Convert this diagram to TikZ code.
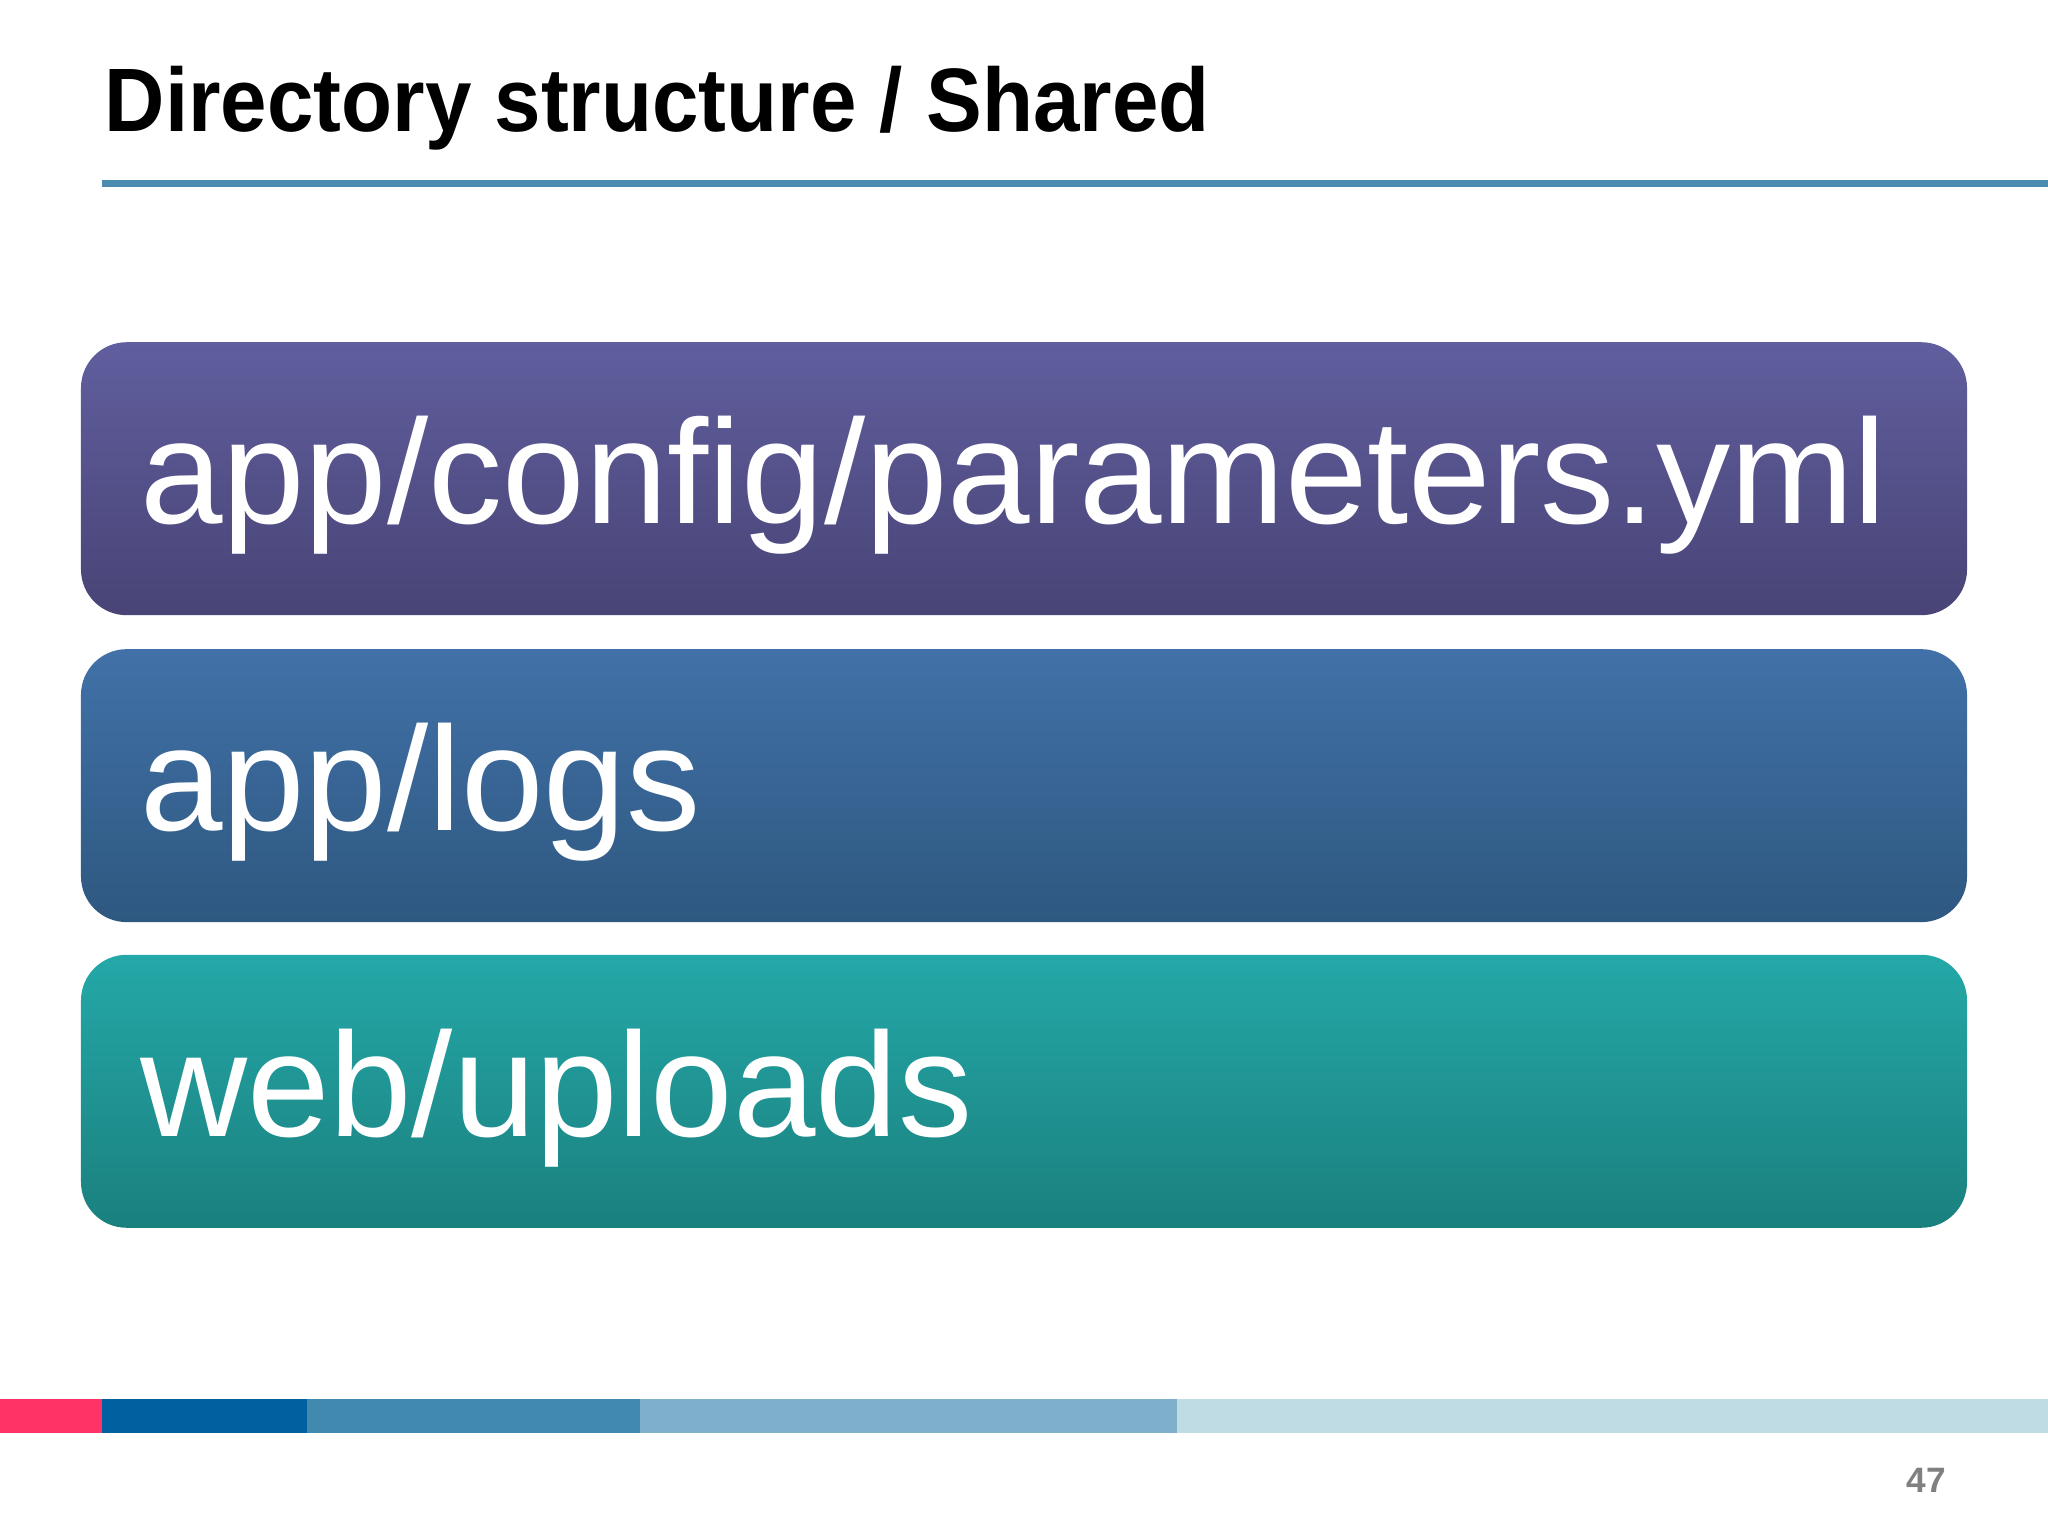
\documentclass[tikz,border=0pt]{standalone}
\usepackage{fontspec}
\setmainfont{Liberation Sans}
\begin{document}
\begin{tikzpicture}[x=1pt,y=-1pt,
  bar/.style={draw=none,rounded corners=35pt},
  lbl/.style={anchor=base west,text=white,inner sep=0pt,font=\fontsize{113.5}{120}\selectfont}]
\useasboundingbox (0,0) rectangle (1568,1176);
\fill[white] (0,0) rectangle (1568,1176);
\node[anchor=base west,inner sep=0pt,xscale=0.927,font=\fontsize{69}{72}\selectfont\bfseries] (title) at (80,101) {Directory structure / Shared};
\fill[color={rgb,255:red,74;green,139;blue,175}] (78,137.5) rectangle (1568,143.5);
% boxes
\shade[bar,top color={rgb,255:red,96;green,94;blue,158},bottom color={rgb,255:red,72;green,68;blue,118}] (62,262) rectangle (1506,471);
\shade[bar,top color={rgb,255:red,65;green,113;blue,168},bottom color={rgb,255:red,46;green,88;blue,128}] (62,497) rectangle (1506,706);
\shade[bar,top color={rgb,255:red,36;green,168;blue,168},bottom color={rgb,255:red,26;green,128;blue,126}] (62,731) rectangle (1506,940);
\node[lbl] (b1) at (107,401) {app/config/parameters.yml};
\node[lbl] (b2) at (107,636) {app/logs};
\node[lbl] (b3) at (107,870) {web/uploads};
% bottom bar
\fill[color={rgb,255:red,255;green,51;blue,102}] (0,1071) rectangle (78,1097);
\fill[color={rgb,255:red,0;green,96;blue,160}] (78,1071) rectangle (235,1097);
\fill[color={rgb,255:red,66;green,137;blue,176}] (235,1071) rectangle (490,1097);
\fill[color={rgb,255:red,126;green,176;blue,204}] (490,1071) rectangle (901,1097);
\fill[color={rgb,255:red,191;green,220;blue,229}] (901,1071) rectangle (1568,1097);
\node[anchor=base,inner sep=0pt,text=gray,font=\fontsize{27}{28}\selectfont\bfseries] (pg) at (1475,1143) {47};
\end{tikzpicture}
\end{document}
